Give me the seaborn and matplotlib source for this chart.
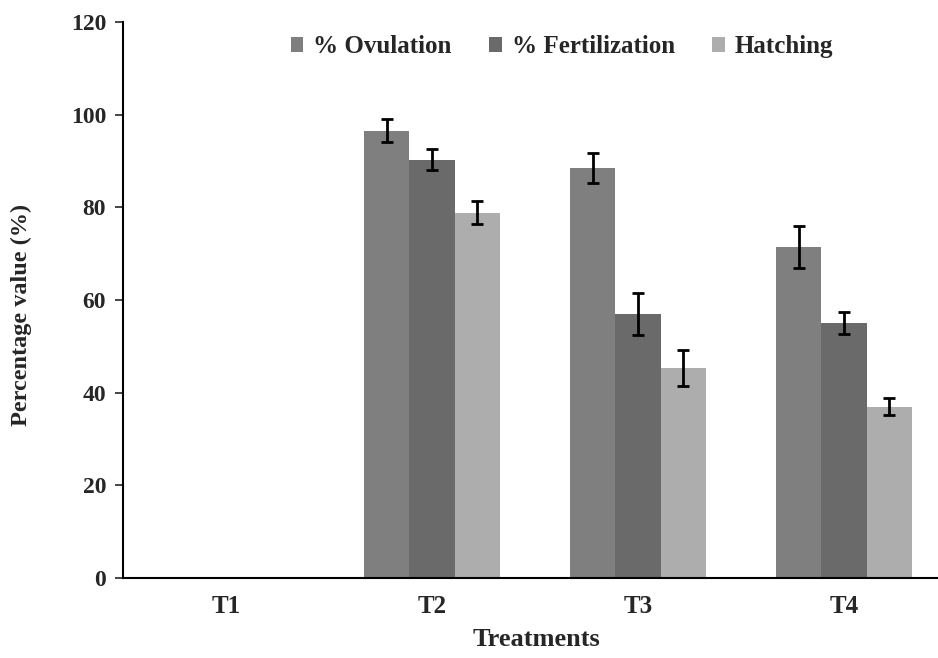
import numpy as np
import pandas as pd
import matplotlib
matplotlib.use('Agg')
import matplotlib.pyplot as plt
import seaborn as sns

# ── 데이터 ──────────────────────────────────────────────────────────────
treatments = ['T1', 'T2', 'T3', 'T4']
series = ['% Ovulation', '% Fertilization', 'Hatching']
ovulation = [0, 96.5, 88.5, 71.5]
fertilization = [0, 90.3, 57.0, 55.0]
hatching = [0, 78.8, 45.3, 37.0]
ovulation_err = [np.nan, 2.5, 3.3, 4.5]
fertilization_err = [np.nan, 2.3, 4.5, 2.3]
hatching_err = [np.nan, 2.5, 3.8, 1.8]

COLORS = ['#7f7f7f', '#6a6a6a', '#adadad']

df = pd.DataFrame({
    'Treatment': treatments * 3,
    'Series': np.repeat(series, len(treatments)),
    'Value': ovulation + fertilization + hatching,
})
errs = [ovulation_err, fertilization_err, hatching_err]

sns.set_style('white')
plt.rcParams['font.family'] = ['Liberation Serif', 'DejaVu Serif']
plt.rcParams['font.weight'] = 'bold'

fig = plt.figure(figsize=(9.38, 6.58), dpi=100)
ax = fig.add_axes([0.131, 0.1216, 0.869, 0.845])

sns.barplot(data=df, x='Treatment', y='Value', hue='Series', order=treatments,
            hue_order=series, palette=COLORS, width=0.66, gap=0,
            linewidth=0, errorbar=None, ax=ax)

# 오차 막대
for cont, err in zip(ax.containers, errs):
    for bar, e in zip(cont, err):
        if np.isnan(e):
            continue
        xc = bar.get_x() + bar.get_width() / 2
        ax.errorbar(xc, bar.get_height(), yerr=e, fmt='none', ecolor='black',
                    elinewidth=2, capsize=4.5, capthick=2)

ax.set_xlim(-0.5, -0.5 + 815 / 206)
ax.set_ylim(0, 120)
ax.set_yticks(range(0, 121, 20))
ax.set_xticks(range(4))
ax.set_xticklabels(treatments, fontsize=18, fontweight='bold')
ax.set_xticks([-0.5, 0.5, 1.5, 2.5], minor=True)
ax.tick_params(axis='x', which='major', length=0, pad=12)
ax.tick_params(axis='x', which='minor', length=7, width=1, color='#555555', direction='out')
ax.tick_params(axis='y', length=6, width=1.2, direction='out', left=True,
               labelsize=17, pad=6)
for lab in ax.get_yticklabels():
    lab.set_fontweight('bold')

for s in ['top', 'right']:
    ax.spines[s].set_visible(False)
for s in ['left', 'bottom']:
    ax.spines[s].set_color('black')
    ax.spines[s].set_linewidth(1.5)

ax.set_xlabel('Treatments', fontsize=19, fontweight='bold')
ax.set_ylabel('Percentage value (%)', fontsize=17.5, fontweight='bold')
ax.xaxis.set_label_coords(0.507, -0.1115)
ax.xaxis.label.set_verticalalignment('center')
ax.yaxis.set_label_coords(-0.124, 0.473)
ax.yaxis.label.set_verticalalignment('center')

ax.legend(loc='center', bbox_to_anchor=(0.539, 0.955), ncol=3, frameon=False,
          fontsize=18, handlelength=0.5, handleheight=0.5, handletextpad=0.4,
          columnspacing=1.5, title=None)

fig.savefig('out.png', dpi=100)
